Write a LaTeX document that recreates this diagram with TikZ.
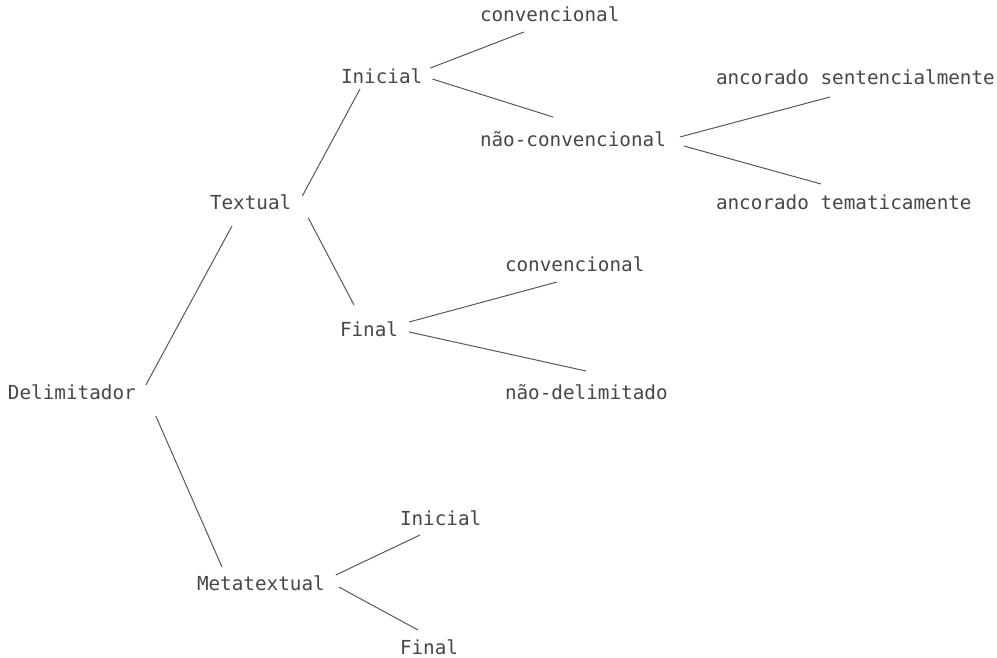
\documentclass[tikz,border=0pt]{standalone}
\usepackage{fontspec}
\setmonofont{DejaVu Sans Mono}
\usetikzlibrary{calc}
\definecolor{inkt}{gray}{0.28}
\definecolor{inkl}{gray}{0.35}
\tikzset{
  lbl/.style={anchor=west, inner sep=0pt, outer sep=0pt, text height=14pt, text depth=0pt,
    text=inkt, font=\ttfamily\fontsize{19.3}{20}\selectfont},
  conn/.style={draw=inkl, line width=1pt}
}
\begin{document}
\begin{tikzpicture}[x=1pt,y=-1pt]
\useasboundingbox[fill=white] (0,0) rectangle (997,658);
% nodes
\node[lbl] (delim) at (8,392) {Delimitador};
\node[lbl] (textual) at (210,203) {Textual};
\node[lbl] (meta) at (197,583) {Metatextual};
\node[lbl] (inicialA) at (341,77) {Inicial};
\node[lbl] (finalA) at (340,329) {Final};
\node[lbl] (convA) at (480,15) {convencional};
\node[lbl] (nconv) at (480,140) {não-convencional};
\node[lbl] (ancS) at (716,78) {ancorado sentencialmente};
\node[lbl] (ancT) at (716,203) {ancorado tematicamente};
\node[lbl] (convB) at (505,265) {convencional};
\node[lbl] (ndel) at (505,392) {não-delimitado};
\node[lbl] (inicialB) at (400,518) {Inicial};
\node[lbl] (finalB) at (400,647) {Final};
% connectors
\draw[conn] ($(delim.east)+(10,-7)$) -- ($(textual.west)+(22,23)$);
\draw[conn] ($(delim.east)+(20,24)$) -- ($(meta.west)+(25,-16)$);
\draw[conn] ($(textual.east)+(11,-7)$) -- ($(inicialA.west)+(19,12)$);
\draw[conn] ($(textual.east)+(17,15)$) -- ($(finalA.west)+(14,-24)$);
\draw[conn] ($(inicialA.east)+(8,-9)$) -- ($(convA.west)+(44,17)$);
\draw[conn] ($(inicialA.east)+(10,2)$) -- ($(nconv.west)+(73,-23)$);
\draw[conn] ($(nconv.east)+(14,-3)$) -- ($(ancS.west)+(114,19)$);
\draw[conn] ($(nconv.east)+(18,6)$) -- ($(ancT.west)+(105,-19)$);
\draw[conn] ($(finalA.east)+(11,-7)$) -- ($(convB.west)+(52,17)$);
\draw[conn] ($(finalA.east)+(11,3)$) -- ($(ndel.west)+(81,-21)$);
\draw[conn] ($(meta.east)+(11,-8)$) -- ($(inicialB.west)+(20,17)$);
\draw[conn] ($(meta.east)+(14,4)$) -- ($(finalB.west)+(18,-17)$);
\end{tikzpicture}
\end{document}
